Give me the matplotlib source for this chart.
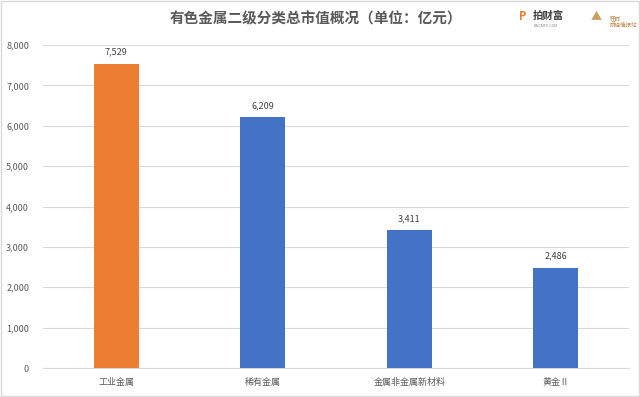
import matplotlib
matplotlib.use("Agg")
import matplotlib.pyplot as plt
from matplotlib.ticker import FuncFormatter
from matplotlib.patches import Rectangle

plt.rcParams['font.family'] = ['Noto Sans CJK SC', 'DejaVu Sans']

categories = ['工业金属', '稀有金属', '金属非金属新材料', '黄金Ⅱ']
values = [7529, 6209, 3411, 2486]
colors = ['#ED7D31', '#4472C4', '#4472C4', '#4472C4']
title = '有色金属二级分类总市值概况（单位：亿元）'

fig = plt.figure(figsize=(6.4, 3.97), dpi=100)
ax = fig.add_axes([43/640, 1-368/397, 586/640, (368-45)/397])

x = range(len(categories))
bars = ax.bar(x, values, width=0.31, color=colors, zorder=3)
for xi, v in zip(x, values):
    ax.text(xi, v + 180, f'{v:,}', ha='center', va='bottom', fontsize=6.5, color='#404040')

ax.set_xlim(-0.5, len(categories) - 0.5)
ax.set_ylim(0, 8000)
ax.set_yticks(range(0, 8001, 1000))
ax.yaxis.set_major_formatter(FuncFormatter(lambda v, p: f'{int(v):,}'))
ax.set_xticks(list(x))
ax.set_xticklabels(categories)
ax.tick_params(axis='both', length=0, labelsize=6.5, labelcolor='#595959')
ax.tick_params(axis='x', pad=7)
ax.tick_params(axis='y', pad=10)
ax.grid(axis='y', color='#D9D9D9', linewidth=0.8, zorder=0)
for s in ['top', 'right', 'left']:
    ax.spines[s].set_visible(False)
ax.spines['bottom'].set_color('#D9D9D9')

fig.text(316/640, 1-18/397, title, ha='center', va='center', fontsize=10.5,
         fontweight='bold', color='#595959')

# logo approximation
fig.text(523/640, 1-17/397, 'P', ha='center', va='center', fontsize=8,
         fontweight='bold', color='#ED7D31')
fig.text(548/640, 1-16/397, '拍财富', ha='center', va='center', fontsize=7.5,
         fontweight='bold', color='#404040')
fig.text(546/640, 1-26/397, 'PAICAIFU.COM', ha='center', va='center', fontsize=2.5,
         color='#808080')
fig.text(596/640, 1-17/397, '▲', ha='center', va='center', fontsize=8, color='#C9A060')
fig.text(610/640, 1-22/397, '旺财\n财经情报站', ha='left', va='center', fontsize=4,
         color='#C08040', linespacing=1.4)

fig.patches.append(Rectangle((0.002, 0.003), 0.996, 0.994, transform=fig.transFigure,
                             fill=False, edgecolor='#D9D9D9', linewidth=1))

fig.savefig('out.png', dpi=100)
